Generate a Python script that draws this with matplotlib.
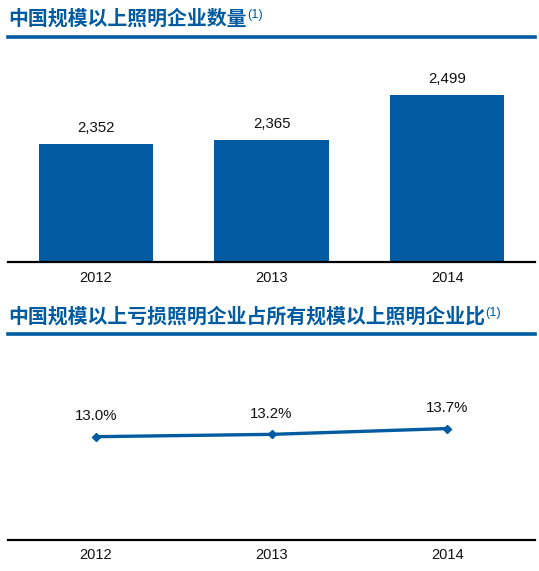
import matplotlib
matplotlib.use("Agg")
import matplotlib.pyplot as plt
from matplotlib.lines import Line2D

# ---- data ----
years = ["2012", "2013", "2014"]
enterprise_counts = [2352, 2365, 2499]
count_labels = ["2,352", "2,365", "2,499"]
loss_ratio = [13.0, 13.2, 13.7]
ratio_labels = ["13.0%", "13.2%", "13.7%"]
title_top = "中国规模以上照明企业数量"
title_bottom = "中国规模以上亏损照明企业占所有规模以上照明企业比"
note_mark = "(1)"

BLUE = "#005BA0"
CJK = ["Noto Sans CJK SC", "DejaVu Sans"]
LAT = ["Liberation Sans", "DejaVu Sans"]

W, H = 539, 571
fig = plt.figure(figsize=(W / 100, H / 100), dpi=100)

def fx(px):
    return px / W

def fy(py):
    return 1 - py / H

# ---- titles and rules ----
def add_title(text, y_center, rule_y):
    t = fig.text(fx(8), fy(y_center), text, family=CJK, weight="bold",
                 fontsize=14.3, color=BLUE, ha="left", va="center")
    fig.add_artist(Line2D([fx(8), fx(535)], [fy(rule_y), fy(rule_y)],
                          color=BLUE, linewidth=2.6, transform=fig.transFigure))
    return t

t1 = add_title(title_top, 18.5, 36.5)
t2 = add_title(title_bottom, 316, 333.5)

# ---- top bar chart ----
ax1 = fig.add_axes([fx(8), fy(262.5), fx(535) - fx(8), fy(45) - fy(262.5)])
x = range(len(years))
ax1.bar(x, enterprise_counts, width=0.65, color=BLUE)
ax1.set_ylim(2000, 2647)
ax1.set_xlim(-0.5, len(years) - 0.5)
for xi, v, lab in zip(x, enterprise_counts, count_labels):
    ax1.annotate(lab, xy=(xi, v), xytext=(0, 11.5), textcoords="offset points",
                 ha="center", va="center", fontsize=10.8, family=LAT, color="#111111")

# ---- bottom line chart ----
ax2 = fig.add_axes([fx(8), fy(539.5), fx(535) - fx(8), fy(345) - fy(539.5)])
ax2.plot(x, loss_ratio, color=BLUE, linewidth=2.4, marker="D", markersize=4.5)
ax2.set_ylim(4.14, 20.9)
ax2.set_xlim(-0.5, len(years) - 0.5)
for xi, v, lab in zip(x, loss_ratio, ratio_labels):
    ax2.annotate(lab, xy=(xi, v), xytext=(0, 15), textcoords="offset points",
                 ha="center", va="center", fontsize=10.8, family=LAT, color="#111111")

for t in (t1, t2):
    ax1.annotate(note_mark, xy=(1, 1), xycoords=t, xytext=(0.5, -1),
                 textcoords="offset points", ha="left", va="top",
                 fontsize=9.2, color=BLUE, family=LAT, annotation_clip=False)

for ax in (ax1, ax2):
    for s in ("top", "left", "right"):
        ax.spines[s].set_visible(False)
    ax.spines["bottom"].set_linewidth(1.6)
    ax.spines["bottom"].set_color("black")
    ax.set_yticks([])
    ax.set_xticks(list(x))
    ax.set_xticklabels(years, fontsize=10.5, family=LAT, color="#111111")
    ax.tick_params(axis="x", length=0, pad=6)
    ax.patch.set_alpha(0)

fig.savefig("out.png", dpi=100)
